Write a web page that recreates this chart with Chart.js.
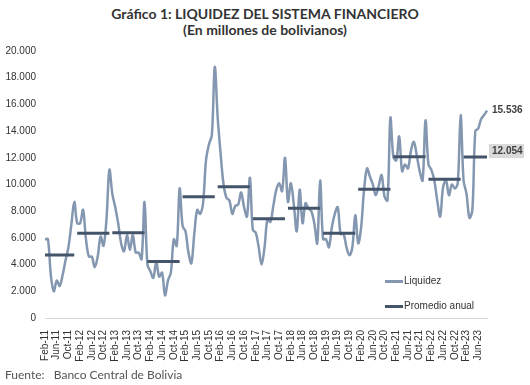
<!DOCTYPE html>
<html lang="es">
<head>
<meta charset="utf-8">
<script src="https://cdn.jsdelivr.net/npm/chart.js@4.4.0/dist/chart.umd.min.js"></script>
<style>
  body { margin: 0; background: #fff; }
  #wrap { position: relative; width: 530px; height: 385px; overflow: hidden; }
  #grafico { position: absolute; left: 0; top: 0; }
  .titulo { position: absolute; left: 0; width: 530px; text-align: center; font-family: Lato, "Open Sans", sans-serif; font-weight: bold; font-size: 14px; color: #333; }
  .leyenda { position: absolute; left: 385px; font-family: "Liberation Sans", Arial, sans-serif; font-size: 10px; color: #333; line-height: 12px; }
  .leyenda span { display: inline-block; width: 18px; vertical-align: middle; margin-right: 1px; }
  .fuente { position: absolute; left: 5px; top: 367px; font-family: Lato, "Open Sans", sans-serif; font-size: 12px; color: #555; }
</style>
</head>
<body>
<div id="wrap">
  <div class="titulo" style="top:5px">Gráfico 1: LIQUIDEZ DEL SISTEMA FINANCIERO</div>
  <div class="titulo" style="top:21px">(En millones de bolivianos)</div>
  <canvas id="grafico" width="530" height="385"></canvas>
  <div class="leyenda" style="top:275px"><span style="border-top:3px solid #8497b0"></span>Liquidez</div>
  <div class="leyenda" style="top:300px"><span style="border-top:3px solid #44546a"></span>Promedio anual</div>
  <div class="fuente">Fuente:&nbsp;&nbsp;&nbsp;Banco Central de Bolivia</div>
</div>
<script>
// meses (la serie empieza en feb-2011 y termina en sep-2023)
const meses = ["Ene", "Feb", "Mar", "Abr", "May", "Jun", "Jul", "Ago", "Sep", "Oct", "Nov", "Dic"];
const anios = [2011, 2012, 2013, 2014, 2015, 2016, 2017, 2018, 2019, 2020, 2021, 2022, 2023];

// liquidez mensual, millones de Bs
const liquidez = [
  5900, 5900, 3200, 2000, 2800, 2400, 3200, 4300, 5300, 7000, 8700,              // 2011 (feb-dic)
  7100, 7100, 8100, 5900, 4600, 4600, 3800, 4600, 6100, 5400, 7400, 11100,       // 2012
  9300, 8300, 7100, 5600, 5000, 6200, 5100, 6200, 4900, 4900, 4400, 8700,        // 2013
  4000, 3500, 3000, 4200, 3100, 3400, 1700, 2800, 3400, 5900, 5400, 9700,        // 2014
  6900, 6500, 4900, 4100, 6300, 8100, 7800, 8600, 11800, 13000, 13700, 18800,    // 2015
  15000, 12300, 10000, 9000, 8800, 7800, 8400, 8500, 9400, 8300, 7600, 10500,    // 2016
  6600, 6400, 5300, 4000, 5300, 7400, 7200, 8400, 9600, 10100, 9500, 12000,      // 2017
  8700, 10100, 8500, 6500, 9600, 7100, 8600, 8200, 8000, 7100, 5600, 10300,      // 2018
  5900, 5900, 5300, 6800, 7800, 8300, 6300, 6300, 5300, 4700, 5300, 7700,        // 2019
  5600, 6800, 9600, 11200, 10600, 10000, 9200, 9900, 10700, 9100, 8800, 15000,   // 2020
  12100, 11800, 13600, 11000, 11500, 11200, 12500, 13200, 12200, 11000, 10300, 14800, // 2021
  11500, 11100, 10300, 8800, 7600, 9800, 10300, 9200, 10000, 9700, 10100, 15200, // 2022
  10300, 9300, 7500, 8100, 14000, 14200, 14900, 15200, 15536                     // 2023 (ene-sep)
];

// promedio anual
const promedioAnual = [4720, 6340, 6380, 4240, 9090, 9830, 7440, 8230, 6340, 9640, 12080, 10390, 12054];

const etiquetas = liquidez.map((_, i) => {
  const m = i + 1; // feb-2011 es el mes 1
  return meses[m % 12] + "-" + String(anios[Math.floor(m / 12)]).slice(2);
});
const anioDe = i => Math.floor((i + 1) / 12);
const promedioMensual = liquidez.map((_, i) => promedioAnual[anioDe(i)]);

const fmt = n => String(Math.round(n)).replace(/\B(?=(\d{3})+(?!\d))/g, ".");

const OSCURO = "#44546a";
const CLARO = "#8497b0";

// rotulos del ultimo dato de cada serie
const rotulos = {
  id: "rotulos",
  afterDatasetsDraw(chart) {
    const ctx = chart.ctx;
    const pl = chart.getDatasetMeta(1).data;
    const pp = chart.getDatasetMeta(0).data;
    const a = pl[pl.length - 1];
    const b = pp[pp.length - 1];
    ctx.save();
    ctx.font = "bold 10px 'Liberation Sans', Arial, sans-serif";
    ctx.textBaseline = "middle";
    ctx.fillStyle = "#404040";
    ctx.fillText(fmt(liquidez[liquidez.length - 1]), a.x + 5, a.y);
    ctx.fillStyle = "#d9d9d9";
    ctx.fillRect(b.x + 2, b.y - 13, 35, 14);
    ctx.fillStyle = "#404040";
    ctx.fillText(fmt(promedioAnual[promedioAnual.length - 1]), b.x + 5, b.y - 6);
    ctx.restore();
  }
};

new Chart(document.getElementById("grafico"), {
  type: "line",
  data: {
    labels: etiquetas,
    datasets: [
      {
        label: "Promedio anual",
        data: promedioMensual,
        borderColor: OSCURO,
        borderWidth: 3,
        borderCapStyle: "butt",
        pointRadius: 0,
        tension: 0,
        segment: {
          borderColor: c => anioDe(c.p0DataIndex) !== anioDe(c.p1DataIndex) ? "rgba(0,0,0,0)" : OSCURO
        }
      },
      {
        label: "Liquidez",
        data: liquidez,
        borderColor: CLARO,
        borderWidth: 2.5,
        pointRadius: 0,
        tension: 0.35
      }
    ]
  },
  options: {
    responsive: false,
    animation: false,
    layout: { padding: { top: 51, right: 43, bottom: 0, left: 0 } },
    plugins: { legend: { display: false }, tooltip: { enabled: false } },
    scales: {
      x: {
        grid: { display: false },
        border: { display: true, color: "#d9d9d9", width: 1 },
        ticks: {
          autoSkip: false,
          maxRotation: 90,
          minRotation: 90,
          padding: 4,
          color: "#333",
          font: { family: "'Liberation Sans', Arial, sans-serif", size: 10 },
          callback: (v, i) => (i % 4 === 0 ? etiquetas[i] : "")
        },
        afterFit: s => { s.height = 67; }
      },
      y: {
        min: 0,
        max: 20000,
        grid: { display: false, drawTicks: false },
        border: { display: false },
        ticks: {
          stepSize: 2000,
          padding: 9,
          color: "#333",
          font: { family: "'Liberation Sans', Arial, sans-serif", size: 10 },
          callback: v => fmt(v)
        },
        afterFit: s => { s.width = 45; }
      }
    }
  },
  plugins: [rotulos]
});
</script>
</body>
</html>
